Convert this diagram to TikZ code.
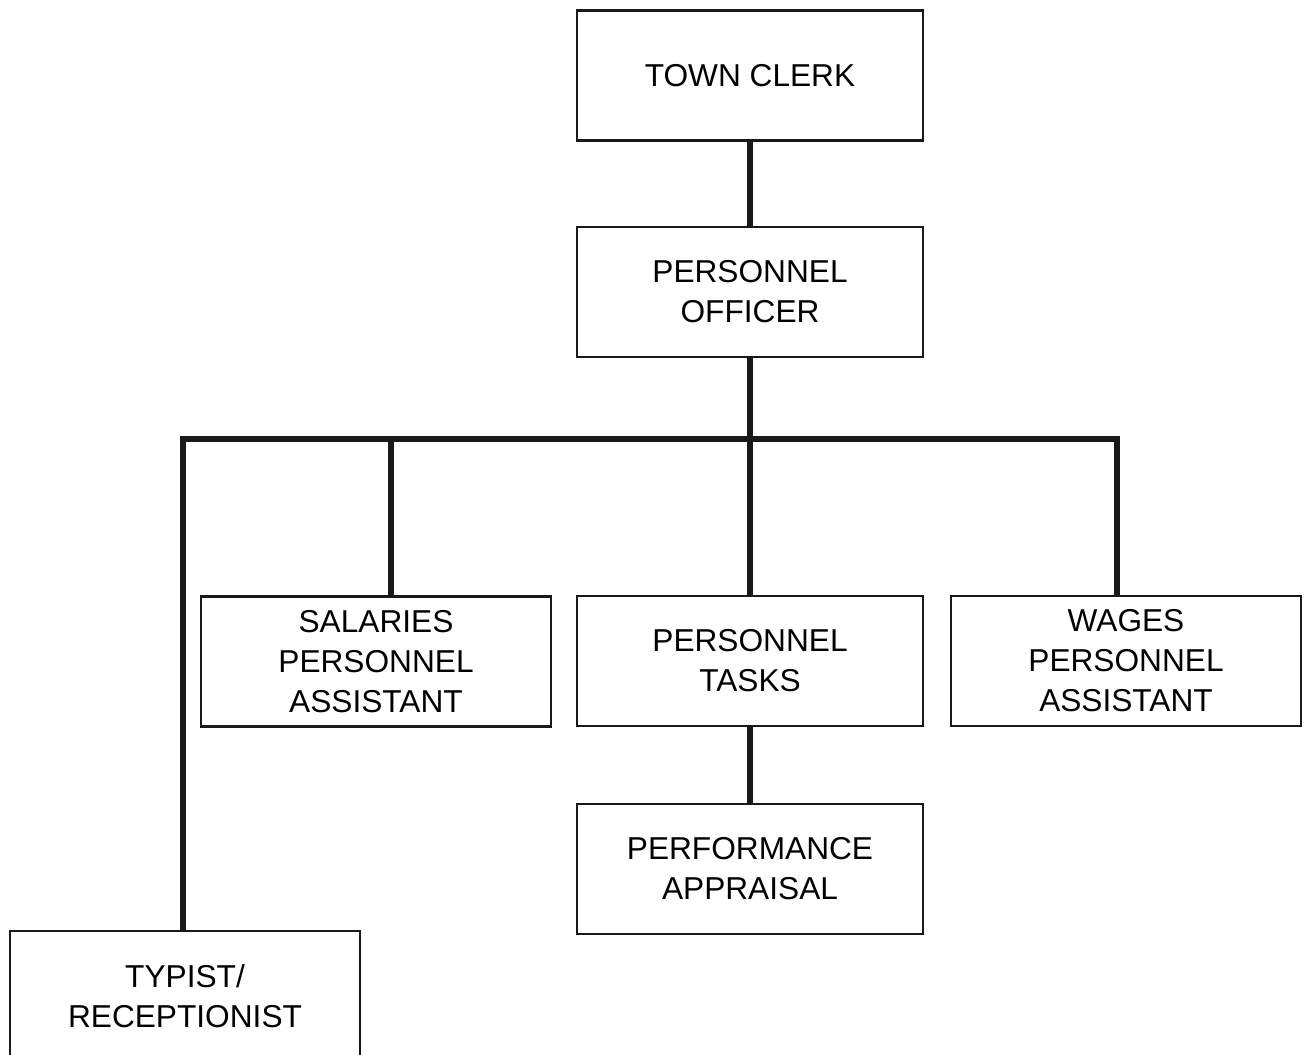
\documentclass[tikz,border=0pt]{standalone}
\usepackage{fontspec}
\setmainfont{Liberation Sans}
\usetikzlibrary{calc}
\begin{document}
\begin{tikzpicture}[x=0.01cm,y=-0.01cm,
  box/.style={draw=black!90, line width=0.6pt, minimum height=1.3cm, inner sep=0pt, align=center,
    font=\fontsize{9}{11.4}\selectfont},
  wbox/.style={box, minimum width=3.5cm},
  nbox/.style={box, minimum width=3.46cm},
  conn/.style={draw=black!90, line width=1.45pt, line join=miter}]
\useasboundingbox (0,0) rectangle (1309,1055);
\clip (0,0) rectangle (1309,1055);
\fill[white] (0,0) rectangle (1309,1055);
\node[nbox] (tc)  at (750,75.5) {TOWN CLERK};
\node[nbox] (po)  at (750,292) {PERSONNEL\\OFFICER};
\node[wbox] (sal) at (376,661.5) {SALARIES\\PERSONNEL\\ASSISTANT};
\node[nbox] (pt)  at (750,661) {PERSONNEL\\TASKS};
\node[wbox] (wag) at (1126,661) {WAGES\\PERSONNEL\\ASSISTANT};
\node[nbox] (pa)  at (750,869) {PERFORMANCE\\APPRAISAL};
\node[wbox] (typ) at (185,996) {TYPIST/\\RECEPTIONIST};
\coordinate (bus) at (750,439);
\coordinate (salT) at ($(sal.north)+(15,0)$);
\coordinate (wagT) at ($(wag.north)+(-9,0)$);
\coordinate (typT) at ($(typ.north)+(-2,0)$);
\draw[conn] (tc.south) -- (po.north);
\draw[conn] (po.south) -- (pt.north);
\draw[conn] (pt.south) -- (pa.north);
\draw[conn] (typT) -- (typT |- bus) -- (wagT |- bus) -- (wagT);
\draw[conn] (salT |- bus) -- (salT);
\end{tikzpicture}
\end{document}
